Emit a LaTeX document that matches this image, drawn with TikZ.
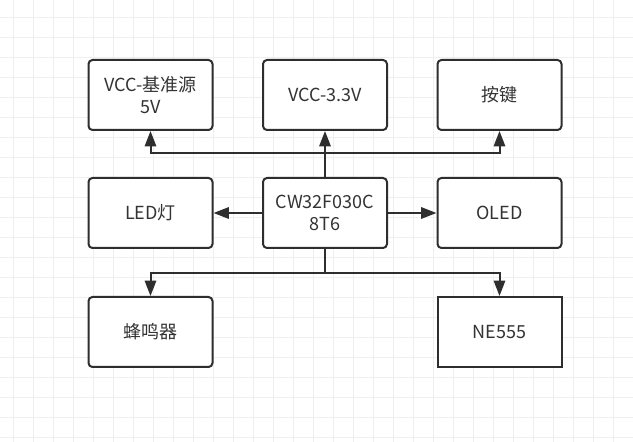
\documentclass[tikz,border=0pt]{standalone}
\usepackage{fontspec}
\setmainfont{Noto Sans CJK SC}
\usetikzlibrary{arrows.meta}
\definecolor{ink}{HTML}{2E2E2E}
\definecolor{txt}{HTML}{333333}
\definecolor{gridc}{HTML}{EFEFEF}
\tikzset{
  blk/.style={draw=ink, line width=1.5pt, rounded corners=3pt, fill=white,
    minimum width=93pt, minimum height=52.5pt, align=center,
    text=txt, font=\fontsize{13.5pt}{16pt}\selectfont, inner sep=2pt},
  sharpblk/.style={blk, rounded corners=0pt},
  conn/.style={draw=ink, line width=1.5pt,
    -{Triangle[length=11.5pt,width=8.5pt]}},
  plain/.style={draw=ink, line width=1.5pt}
}
\begin{document}
\begin{tikzpicture}[x=0.75pt,y=-0.75pt]
\useasboundingbox (0,0) rectangle (633,442);
\fill[white] (0,0) rectangle (633,442);
\foreach \gx in {13,33,...,633} \draw[gridc, line width=0.75pt] (\gx,0) -- (\gx,442);
\foreach \gy in {18,38,...,442} \draw[gridc, line width=0.75pt] (0,\gy) -- (633,\gy);

\node[blk] (vref) at (150.5,95) {VCC-基准源\\5V};
\node[blk] (v33) at (325,95) {VCC-3.3V};
\node[blk] (key) at (499.5,95) {按键};
\node[blk] (led) at (150.5,213) {LED灯};
\node[blk] (mcu) at (325,213) {CW32F030C\\8T6};
\node[blk] (oled) at (499.5,213) {OLED};
\node[blk] (buz) at (150.5,332) {蜂鸣器};
\node[sharpblk] (ne) at (499.5,332) {NE555};

\coordinate (up) at (325,153.5);
\coordinate (dn) at (325,273.5);

\draw[conn] (mcu.north) -- (v33.south);
\draw[conn] (up) -| (vref.south);
\draw[conn] (up) -| (key.south);
\draw[conn] (mcu.west) -- (led.east);
\draw[conn] (mcu.east) -- (oled.west);
\draw[plain] (mcu.south) -- (dn);
\draw[conn] (dn) -| (buz.north);
\draw[conn] (dn) -| (ne.north);
\end{tikzpicture}
\end{document}
